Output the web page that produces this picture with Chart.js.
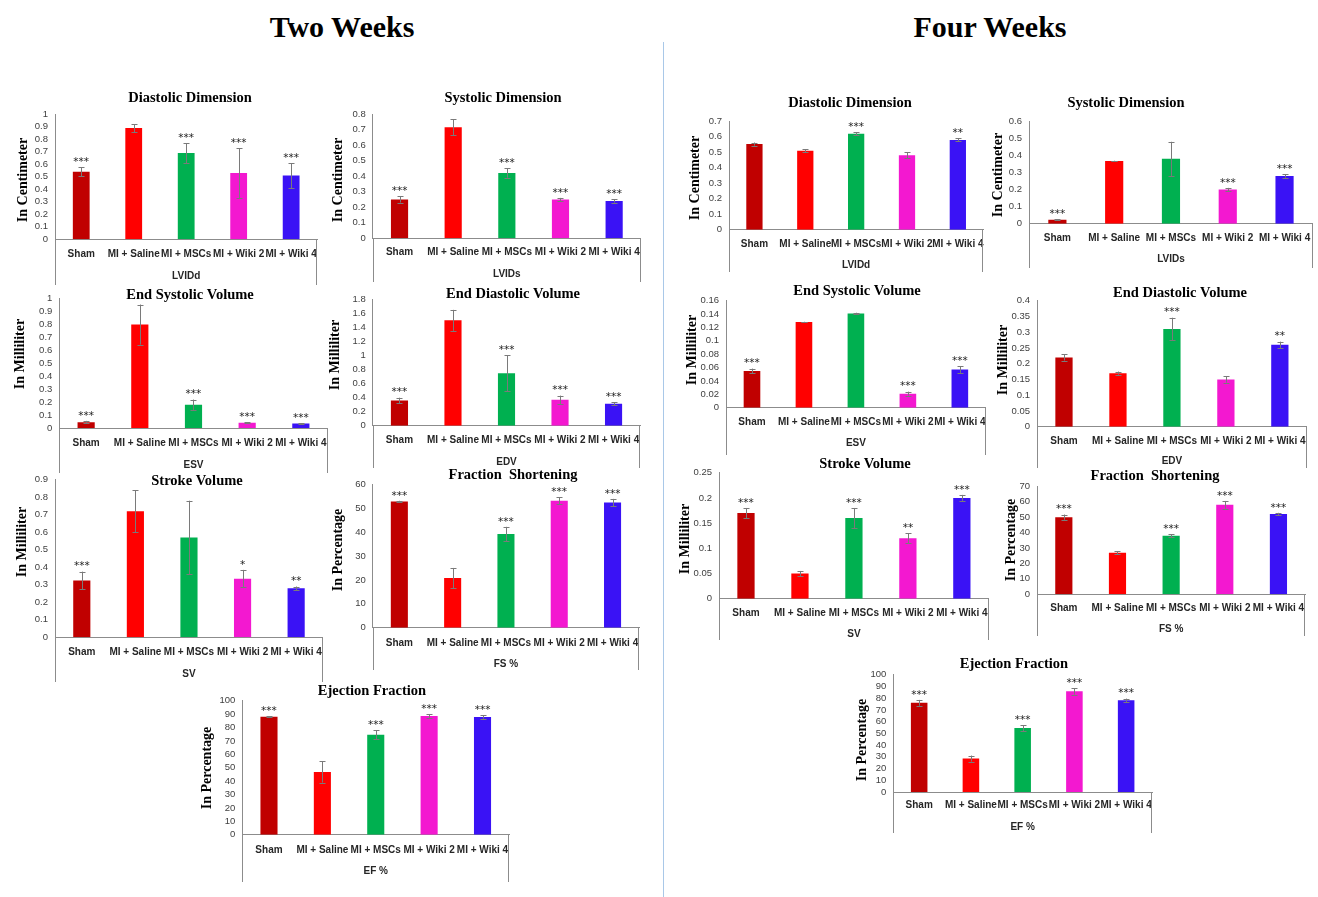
<!DOCTYPE html>
<html>
<head>
<meta charset="utf-8">
<script src="https://cdn.jsdelivr.net/npm/chart.js@4.4.0/dist/chart.umd.min.js"></script>
<style>
  html, body { margin: 0; padding: 0; background: #fff; }
  body { width: 1318px; height: 897px; position: relative; overflow: hidden; }
  .head { position: absolute; top: 10px; transform: translateX(-50%); white-space: nowrap;
          font: bold 30px "Liberation Serif", "Times New Roman", serif; color: #000; }
  .divider { position: absolute; left: 663px; top: 42px; width: 1px; height: 855px; background: #a9c8e8; }
  canvas { position: absolute; }
</style>
</head>
<body>
<div class="head" style="left:342px">Two Weeks</div>
<div class="head" style="left:990px">Four Weeks</div>
<div class="divider"></div>
<script>
// ---- groups ----
const groups = ['Sham', 'MI + Saline', 'MI + MSCs', 'MI + Wiki 2', 'MI + Wiki 4'];

// ---- two weeks: mean, error, significance, axis [max, step] ----
const lviddW2 = [0.54, 0.89, 0.69, 0.53, 0.51];
const lviddW2Err = [0.035, 0.032, 0.08, 0.2, 0.1];
const lviddW2Sig = ['***', '', '***', '***', '***'];
const lviddW2Axis = [1, 0.1];

const lvidsW2 = [0.25, 0.715, 0.42, 0.25, 0.24];
const lvidsW2Err = [0.02, 0.05, 0.03, 0.01, 0.01];
const lvidsW2Sig = ['***', '', '***', '***', '***'];
const lvidsW2Axis = [0.8, 0.1];

const esvW2 = [0.045, 0.80, 0.18, 0.04, 0.035];
const esvW2Err = [0.01, 0.155, 0.04, 0.005, 0.003];
const esvW2Sig = ['***', '', '***', '***', '***'];
const esvW2Axis = [1, 0.1];

const edvW2 = [0.36, 1.505, 0.75, 0.37, 0.315];
const edvW2Err = [0.04, 0.15, 0.26, 0.06, 0.02];
const edvW2Sig = ['***', '', '***', '***', '***'];
const edvW2Axis = [1.8, 0.2];

const svW2 = [0.325, 0.72, 0.57, 0.335, 0.28];
const svW2Err = [0.05, 0.12, 0.21, 0.05, 0.01];
const svW2Sig = ['***', '', '', '*', '**'];
const svW2Axis = [0.9, 0.1];

const fsW2 = [52.8, 20.8, 39.2, 53.1, 52.4];
const fsW2Err = [0.3, 4.2, 3, 1.4, 1.5];
const fsW2Sig = ['***', '', '***', '***', '***'];
const fsW2Axis = [60, 10];

const efW2 = [88.1, 46.8, 74.6, 88.6, 87.8];
const efW2Err = [0.4, 7.9, 3.2, 1.3, 1.2];
const efW2Sig = ['***', '', '***', '***', '***'];
const efW2Axis = [100, 10];

// ---- four weeks ----
const lviddW4 = [0.553, 0.51, 0.62, 0.48, 0.58];
const lviddW4Err = [0.01, 0.01, 0.01, 0.02, 0.01];
const lviddW4Sig = ['', '', '***', '', '**'];
const lviddW4Axis = [0.7, 0.1];

const lvidsW4 = [0.023, 0.367, 0.38, 0.20, 0.28];
const lvidsW4Err = [0.003, 0.002, 0.1, 0.01, 0.01];
const lvidsW4Sig = ['***', '', '', '***', '***'];
const lvidsW4Axis = [0.6, 0.1];

const esvW4 = [0.055, 0.128, 0.141, 0.021, 0.057];
const esvW4Err = [0.0035, 0.0005, 0.001, 0.003, 0.005];
const esvW4Sig = ['***', '', '', '***', '***'];
const esvW4Axis = [0.16, 0.02];

const edvW4 = [0.22, 0.17, 0.31, 0.15, 0.26];
const edvW4Err = [0.01, 0.005, 0.036, 0.01, 0.01];
const edvW4Sig = ['', '', '***', '', '**'];
const edvW4Axis = [0.4, 0.05];

const svW4 = [0.17, 0.05, 0.16, 0.12, 0.20];
const svW4Err = [0.01, 0.005, 0.02, 0.01, 0.006];
const svW4Sig = ['***', '', '***', '**', '***'];
const svW4Axis = [0.25, 0.05];

const fsW4 = [50, 27, 38, 58, 52];
const fsW4Err = [1.7, 1, 1, 2.5, 0.8];
const fsW4Sig = ['***', '', '***', '***', '***'];
const fsW4Axis = [70, 10];

const efW4 = [76, 28.5, 54.5, 85.8, 78.2];
const efW4Err = [2.5, 2.6, 2.5, 2.7, 1.4];
const efW4Sig = ['***', '', '***', '***', '***'];
const efW4Axis = [100, 10];

// ---- styling ----
const barColors = ['#c00000', '#ff0000', '#00b050', '#f318d0', '#3a12f5'];
const SERIF = '"Liberation Serif", "Times New Roman", serif';
const SANS = '"Liberation Sans", Arial, sans-serif';
const STAR_FONT = '"DejaVu Sans", sans-serif';
const AXIS_LINE = '#8c8c8c';

// Panel layout (page pixels): plot left/right (x0/x1), top/zero (y0/y1), frame bottom (yb),
// title centre (tx,ty), axis-title centre (yx,yy), category row centre (cy), group row centre (gy)
const panels = [
  { title: 'Diastolic Dimension', yTitle: 'In Centimeter', group: 'LVIDd',
    values: lviddW2, errors: lviddW2Err, sig: lviddW2Sig, axis: lviddW2Axis,
    box: { x0: 55, x1: 321, y0: 114.3, y1: 239.3, yb: 285, tx: 190, ty: 98, yx: 23, yy: 180, cy: 254, gy: 276 } },
  { title: 'Systolic Dimension', yTitle: 'In Centimeter', group: 'LVIDs',
    values: lvidsW2, errors: lvidsW2Err, sig: lvidsW2Sig, axis: lvidsW2Axis,
    box: { x0: 372.7, x1: 643, y0: 114, y1: 238.3, yb: 282, tx: 503, ty: 98, yx: 338, yy: 180, cy: 252, gy: 274 } },
  { title: 'End Systolic Volume', yTitle: 'In Milliliter', group: 'ESV',
    values: esvW2, errors: esvW2Err, sig: esvW2Sig, axis: esvW2Axis,
    box: { x0: 59.3, x1: 331, y0: 298.7, y1: 428, yb: 473, tx: 190, ty: 295, yx: 20, yy: 354, cy: 443, gy: 465 } },
  { title: 'End Diastolic Volume', yTitle: 'In Milliliter', group: 'EDV',
    values: edvW2, errors: edvW2Err, sig: edvW2Sig, axis: edvW2Axis,
    box: { x0: 372.7, x1: 643, y0: 299.7, y1: 425.7, yb: 468, tx: 513, ty: 294, yx: 335, yy: 355, cy: 440, gy: 462 } },
  { title: 'Stroke Volume', yTitle: 'In Milliliter', group: 'SV',
    values: svW2, errors: svW2Err, sig: svW2Sig, axis: svW2Axis,
    box: { x0: 55, x1: 326, y0: 479.7, y1: 637.3, yb: 682, tx: 197, ty: 481, yx: 22, yy: 542, cy: 652, gy: 674 } },
  { title: 'Fraction  Shortening', yTitle: 'In Percentage', group: 'FS %',
    values: fsW2, errors: fsW2Err, sig: fsW2Sig, axis: fsW2Axis,
    box: { x0: 372.7, x1: 643, y0: 484.3, y1: 627.7, yb: 670, tx: 513, ty: 475, yx: 338, yy: 550, cy: 643, gy: 664 } },
  { title: 'Ejection Fraction', yTitle: 'In Percentage', group: 'EF %',
    values: efW2, errors: efW2Err, sig: efW2Sig, axis: efW2Axis,
    box: { x0: 242.3, x1: 512.7, y0: 700.7, y1: 834.7, yb: 882, tx: 372, ty: 691, yx: 207, yy: 768, cy: 850, gy: 871 } },

  { title: 'Diastolic Dimension', yTitle: 'In Centimeter', group: 'LVIDd',
    values: lviddW4, errors: lviddW4Err, sig: lviddW4Sig, axis: lviddW4Axis,
    box: { x0: 729, x1: 988, y0: 121.3, y1: 229.7, yb: 272, tx: 850, ty: 103, yx: 695, yy: 178, cy: 244.7, gy: 265 } },
  { title: 'Systolic Dimension', yTitle: 'In Centimeter', group: 'LVIDs',
    values: lvidsW4, errors: lvidsW4Err, sig: lvidsW4Sig, axis: lvidsW4Axis,
    box: { x0: 1029, x1: 1314, y0: 121.3, y1: 223.7, yb: 268, tx: 1126, ty: 103, yx: 998, yy: 175, cy: 238, gy: 259.7 } },
  { title: 'End Systolic Volume', yTitle: 'In Milliliter', group: 'ESV',
    values: esvW4, errors: esvW4Err, sig: esvW4Sig, axis: esvW4Axis,
    box: { x0: 726, x1: 990, y0: 300.7, y1: 407.7, yb: 455, tx: 857, ty: 291, yx: 692, yy: 350, cy: 422.7, gy: 443 } },
  { title: 'End Diastolic Volume', yTitle: 'In Milliliter', group: 'EDV',
    values: edvW4, errors: edvW4Err, sig: edvW4Sig, axis: edvW4Axis,
    box: { x0: 1037, x1: 1310, y0: 300.7, y1: 426.7, yb: 468, tx: 1180, ty: 293, yx: 1003, yy: 360, cy: 441.7, gy: 461 } },
  { title: 'Stroke Volume', yTitle: 'In Milliliter', group: 'SV',
    values: svW4, errors: svW4Err, sig: svW4Sig, axis: svW4Axis,
    box: { x0: 719, x1: 992, y0: 472.7, y1: 598.7, yb: 640, tx: 865, ty: 464, yx: 685, yy: 539, cy: 613.7, gy: 634.7 } },
  { title: 'Fraction  Shortening', yTitle: 'In Percentage', group: 'FS %',
    values: fsW4, errors: fsW4Err, sig: fsW4Sig, axis: fsW4Axis,
    box: { x0: 1037, x1: 1308, y0: 486.3, y1: 594.3, yb: 636, tx: 1155, ty: 476, yx: 1011, yy: 540, cy: 608.7, gy: 629.3 } },
  { title: 'Ejection Fraction', yTitle: 'In Percentage', group: 'EF %',
    values: efW4, errors: efW4Err, sig: efW4Sig, axis: efW4Axis,
    box: { x0: 893.3, x1: 1155, y0: 674.7, y1: 792, yb: 833, tx: 1014, ty: 664, yx: 862, yy: 740, cy: 805.7, gy: 827 } }
];

// Error bars, significance marks, titles and the two-level category frame
const panelDecor = {
  id: 'panelDecor',
  afterDatasetsDraw(chart, args, o) {
    const ctx = chart.ctx;
    const y = chart.scales.y;
    const meta = chart.getDatasetMeta(0);
    ctx.save();
    meta.data.forEach((bar, i) => {
      const v = o.values[i], e = o.errors[i];
      const xc = Math.round(bar.x) + 0.5;
      const top = y.getPixelForValue(v + e);
      const bot = y.getPixelForValue(v - e);
      ctx.strokeStyle = '#7a7a7a';
      ctx.lineWidth = 1;
      ctx.beginPath();
      ctx.moveTo(xc, top); ctx.lineTo(xc, bot);
      ctx.moveTo(xc - 3, Math.round(top) + 0.5); ctx.lineTo(xc + 3, Math.round(top) + 0.5);
      ctx.moveTo(xc - 3, Math.round(bot) + 0.5); ctx.lineTo(xc + 3, Math.round(bot) + 0.5);
      ctx.stroke();
      if (o.sig[i]) {
        ctx.fillStyle = '#222222';
        ctx.font = '10.5px ' + STAR_FONT;
        ctx.textAlign = 'center';
        ctx.textBaseline = 'middle';
        ctx.fillText(o.sig[i], bar.x, top - 5);
      }
    });
    ctx.restore();
  },
  afterDraw(chart, args, o) {
    const ctx = chart.ctx;
    const a = chart.chartArea;
    ctx.save();
    // lower frame of the category axis
    ctx.strokeStyle = AXIS_LINE;
    ctx.lineWidth = 1;
    const lx = Math.round(a.left) + 0.5, rx = Math.round(a.right) - 0.5;
    ctx.beginPath();
    ctx.moveTo(lx, a.bottom); ctx.lineTo(lx, o.yb);
    ctx.moveTo(rx, a.bottom); ctx.lineTo(rx, o.yb);
    ctx.stroke();
    // group label
    ctx.fillStyle = '#262626';
    ctx.font = 'bold 10px ' + SANS;
    ctx.textAlign = 'center';
    ctx.textBaseline = 'middle';
    ctx.fillText(o.group, (a.left + a.right) / 2, o.gy);
    // chart title
    ctx.fillStyle = '#000';
    ctx.font = 'bold 14.5px ' + SERIF;
    ctx.fillText(o.title, o.tx, o.ty);
    // value axis title
    ctx.translate(o.yx, o.yy);
    ctx.rotate(-Math.PI / 2);
    ctx.font = 'bold 14px ' + SERIF;
    ctx.fillText(o.yTitle, 0, 0);
    ctx.restore();
  }
};

function makePanel(p) {
  const b = p.box;
  const cl = Math.floor(Math.min(b.x0 - 62, b.yx - 14));
  const ct = Math.floor(Math.min(b.ty, b.y0) - 14);
  const cr = Math.ceil(b.x1 + 5);
  const cb = Math.ceil(b.yb + 3);
  const w = cr - cl, h = cb - ct;
  const cv = document.createElement('canvas');
  cv.width = w; cv.height = h;
  cv.style.left = cl + 'px'; cv.style.top = ct + 'px';
  cv.style.width = w + 'px'; cv.style.height = h + 'px';
  document.body.appendChild(cv);

  const catFont = 10, catLine = catFont * 1.2;
  new Chart(cv, {
    type: 'bar',
    data: {
      labels: groups,
      datasets: [{
        data: p.values,
        backgroundColor: barColors,
        borderWidth: 0,
        categoryPercentage: 1,
        barPercentage: 0.32
      }]
    },
    options: {
      responsive: false,
      animation: false,
      devicePixelRatio: 1,
      events: [],
      layout: { padding: { left: 0, top: b.y0 - ct, right: cr - b.x1, bottom: cb - b.yb } },
      plugins: {
        legend: { display: false },
        tooltip: { enabled: false },
        panelDecor: {
          values: p.values, errors: p.errors, sig: p.sig,
          title: p.title, yTitle: p.yTitle, group: p.group,
          tx: b.tx - cl, ty: b.ty - ct, yx: b.yx - cl, yy: b.yy - ct,
          gy: b.gy - ct, yb: b.yb - ct
        }
      },
      scales: {
        x: {
          type: 'category',
          offset: true,
          grid: { display: false, drawTicks: false },
          border: { display: true, color: AXIS_LINE, width: 1 },
          ticks: {
            autoSkip: false, maxRotation: 0, minRotation: 0,
            color: '#262626',
            font: { family: SANS, size: catFont, weight: 'bold' },
            padding: b.cy - b.y1 - catLine / 2
          },
          afterFit(s) { s.height = b.yb - b.y1; }
        },
        y: {
          type: 'linear',
          min: 0,
          max: p.axis[0],
          grid: { display: false, drawTicks: false },
          border: { display: true, color: AXIS_LINE, width: 1 },
          ticks: {
            stepSize: p.axis[1],
            autoSkip: false,
            color: '#404040',
            font: { family: SANS, size: 9.5 },
            padding: 7,
            callback: (v) => String(Number(v.toFixed(4)))
          },
          afterFit(s) { s.width = b.x0 - cl; }
        }
      }
    },
    plugins: [panelDecor]
  });
}

panels.forEach(makePanel);
</script>
</body>
</html>
